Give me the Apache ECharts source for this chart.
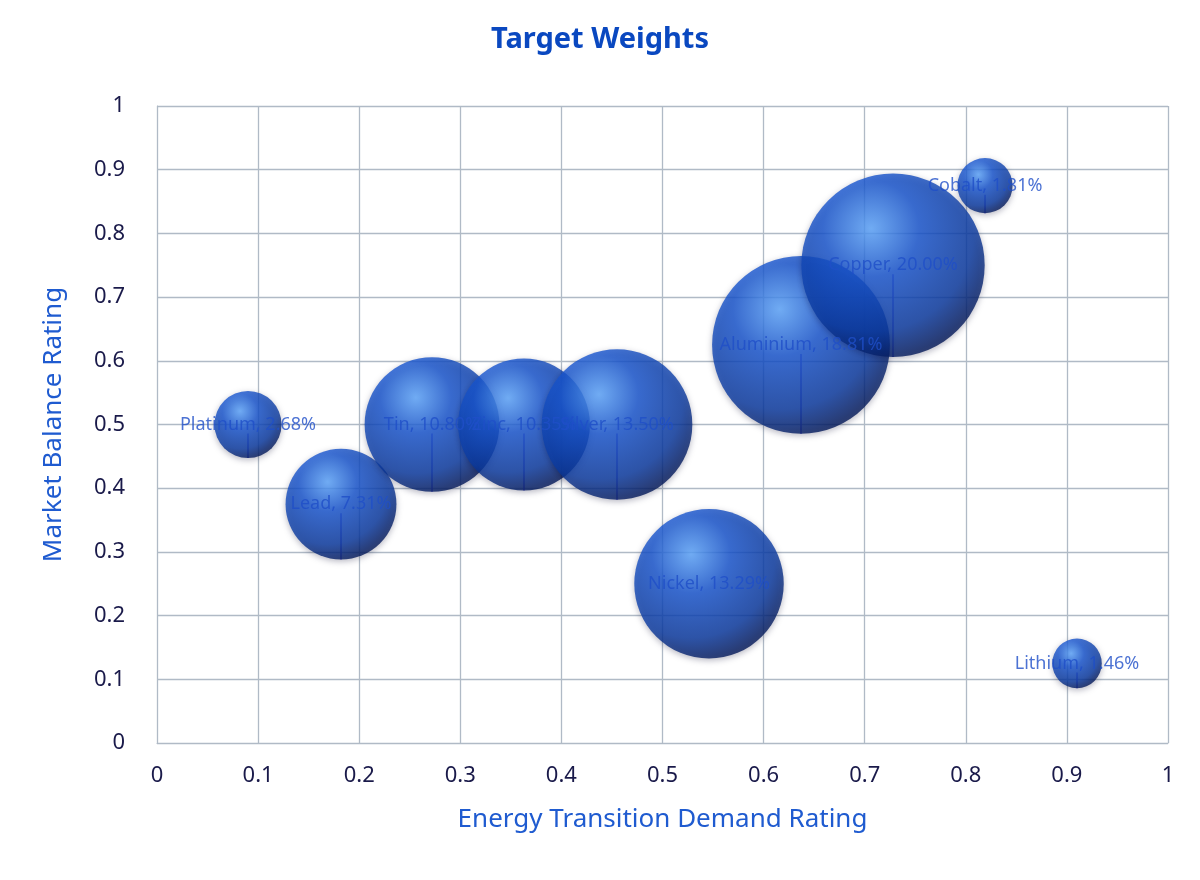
<!DOCTYPE html>
<html><head><meta charset="utf-8">
<script src="https://cdn.jsdelivr.net/npm/echarts@6/dist/echarts.min.js"></script>
<style>html,body{margin:0;background:#fff}#c{width:1200px;height:880px}</style>
</head><body><div id="c"></div>
<script>
const names = ['Platinum','Lead','Tin','Zinc','Silver','Nickel','Aluminium','Copper','Cobalt','Lithium'];
const demand = [0.09,0.182,0.272,0.363,0.455,0.546,0.637,0.728,0.819,0.91];
const balance = [0.5,0.375,0.5,0.5,0.5,0.25,0.625,0.75,0.875,0.125];
const weights = [2.68,7.31,10.80,10.35,13.50,13.29,18.81,20.00,1.81,1.46];
const labelOffsets = [[45,-50],[133,27],[-3,-151],[45,-100],[61,-157],[172,32],[207,63],[204,56],[121,26],[3,57]];
const noLine = ['Nickel'];
const ticks = [0,0.1,0.2,0.3,0.4,0.5,0.6,0.7,0.8,0.9,1];

const fill = {type:'radial',x:0.38,y:0.3,r:0.75,colorStops:[
  {offset:0,color:'#5ea8ff'},{offset:0.35,color:'#1856d0'},{offset:0.75,color:'#0a3aa0'},{offset:1,color:'#031550'}]};

const data = names.map((n,i)=>({
  name:n, value:[demand[i],balance[i],weights[i]],
  labelLayout:{dx:labelOffsets[i][0],dy:labelOffsets[i][1]},
  labelLine:{show:noLine.indexOf(n)<0}
}));
const fmt = v => (v===0||v===1)?String(v):String(v);
const chart = echarts.init(document.getElementById('c'));
chart.setOption({
  animation:false,
  title:{text:'Target Weights',left:'center',top:20,textStyle:{fontFamily:'Noto Sans',fontWeight:'bold',fontSize:29,color:'#0a48c0'}},
  grid:{left:157,right:32,top:106,bottom:137},
  xAxis:{type:'value',min:0,max:1,interval:0.1,name:'Energy Transition Demand Rating',nameLocation:'middle',nameGap:64,
    nameTextStyle:{fontFamily:'Noto Sans',fontSize:26,color:'#1f5bd0'},
    axisLine:{show:true,lineStyle:{color:'#b0bac6'}},axisTick:{show:false},
    axisLabel:{margin:22,fontFamily:'Noto Sans',fontSize:22,color:'#1a1a4a',formatter:fmt},
    splitLine:{show:true,lineStyle:{color:'#b0bac6',width:1.3}}},
  yAxis:{type:'value',min:0,max:1,interval:0.1,name:'Market Balance Rating',nameLocation:'middle',nameGap:90,
    nameTextStyle:{fontFamily:'Noto Sans',fontSize:26,color:'#1f5bd0'},
    axisLine:{show:true,lineStyle:{color:'#b0bac6'}},axisTick:{show:false},
    axisLabel:{margin:32,fontFamily:'Noto Sans',fontSize:22,color:'#1a1a4a',formatter:fmt},
    splitLine:{show:true,lineStyle:{color:'#b0bac6',width:1.3}}},
  series:[{
    type:'scatter',data:data,
    symbolSize:v=>41*Math.sqrt(v[2]),
    itemStyle:{color:fill,shadowColor:'rgba(0,0,40,0.35)',shadowBlur:6,shadowOffsetY:2},
    label:{show:true,position:'inside',formatter:p=>p.name+', '+p.value[2].toFixed(2)+'%',
      fontFamily:'Noto Sans',fontSize:18,color:'#1f4fc8'},
    labelLine:{show:true,lineStyle:{color:'#7b6cf0',width:1.5}}
  }]
});
</script></body></html>
